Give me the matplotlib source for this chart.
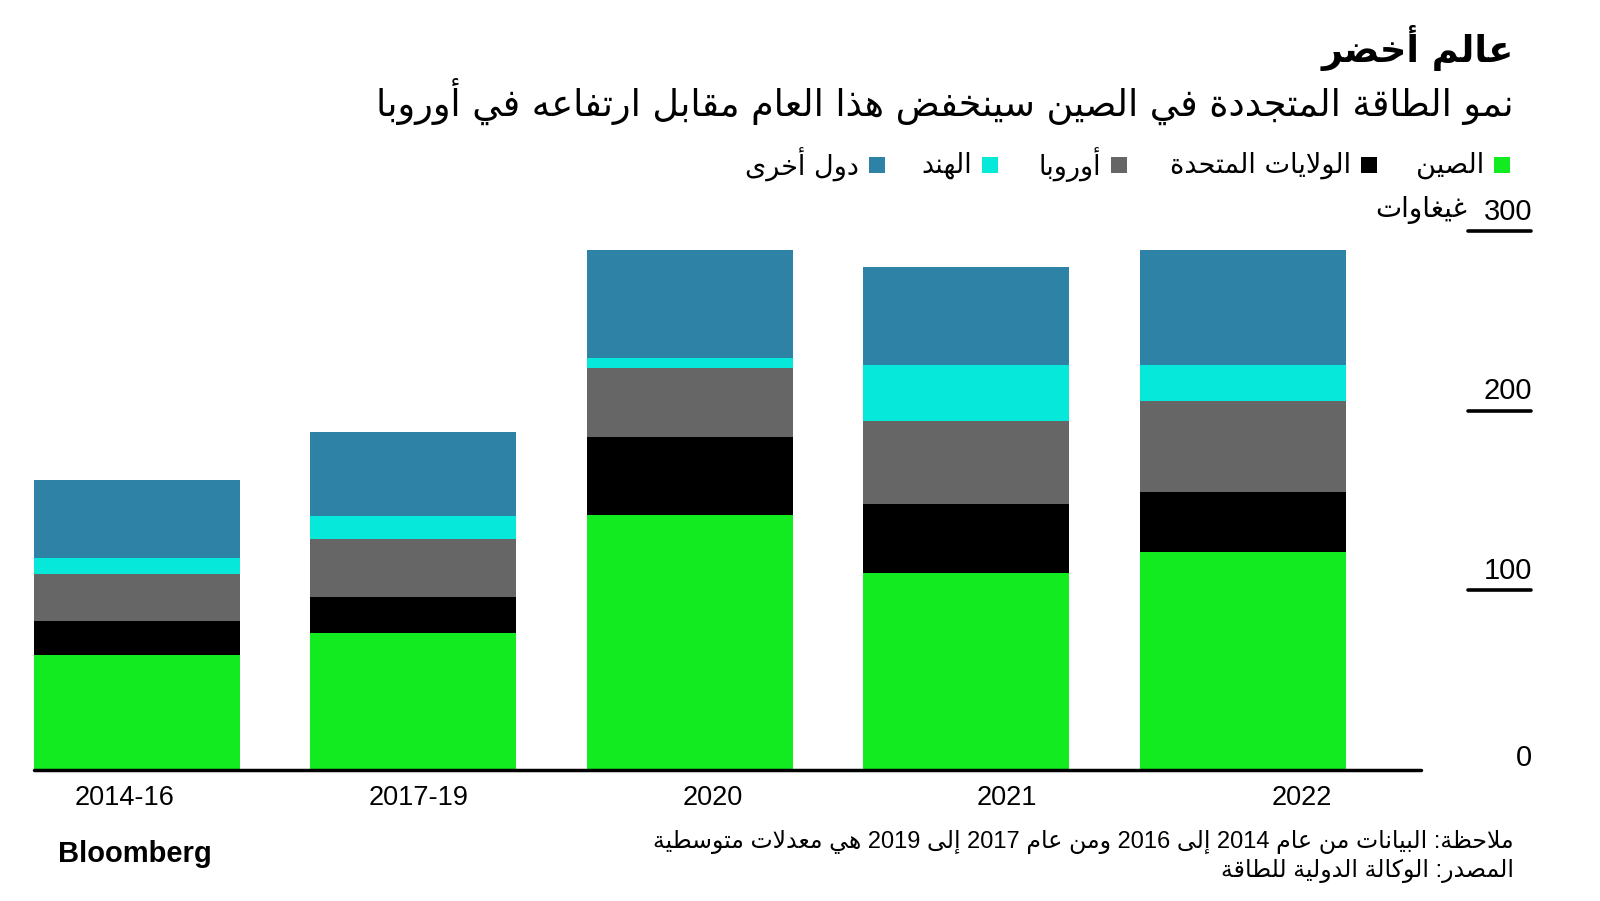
import re
import matplotlib
matplotlib.use("Agg")
import matplotlib.pyplot as plt
from matplotlib.patches import Rectangle
import matplotlib.transforms as mtransforms

# ---------------- data ----------------
categories = ["2014-16", "2017-19", "2020", "2021", "2022"]
china = [64.2, 76.1, 142.0, 109.5, 121.5]
usa = [18.6, 20.4, 43.6, 38.4, 33.1]
europe = [26.3, 32.1, 38.1, 46.4, 51.0]
india = [9.1, 13.0, 5.5, 31.2, 19.9]
others = [43.3, 46.4, 60.3, 54.4, 64.0]
series_names = ["الصين", "الولايات المتحدة", "أوروبا", "الهند", "دول أخرى"]
series_colors = ["#12eb20", "#000000", "#666666", "#06e8da", "#2e82a6"]
y_ticks = [0, 100, 200, 300]
unit_label = "غيغاوات"
title = "عالم أخضر"
subtitle = "نمو الطاقة المتجددة في الصين سينخفض هذا العام مقابل ارتفاعه في أوروبا"
note = "ملاحظة: البيانات من عام 2014 إلى 2016 ومن عام 2017 إلى 2019 هي معدلات متوسطية"
source = "المصدر: الوكالة الدولية للطاقة"

# ------------- minimal Arabic shaping + RTL ordering -------------
DUAL = {'ئ': 0xFE89, 'ب': 0xFE8F, 'ت': 0xFE95, 'ث': 0xFE99, 'ج': 0xFE9D, 'ح': 0xFEA1,
        'خ': 0xFEA5, 'س': 0xFEB1, 'ش': 0xFEB5, 'ص': 0xFEB9, 'ض': 0xFEBD, 'ط': 0xFEC1,
        'ظ': 0xFEC5, 'ع': 0xFEC9, 'غ': 0xFECD, 'ف': 0xFED1, 'ق': 0xFED5, 'ك': 0xFED9,
        'ل': 0xFEDD, 'م': 0xFEE1, 'ن': 0xFEE5, 'ه': 0xFEE9, 'ي': 0xFEF1}
RIGHT = {'آ': 0xFE81, 'أ': 0xFE83, 'ؤ': 0xFE85, 'إ': 0xFE87, 'ا': 0xFE8D, 'ة': 0xFE93,
         'د': 0xFEA9, 'ذ': 0xFEAB, 'ر': 0xFEAD, 'ز': 0xFEAF, 'و': 0xFEED, 'ى': 0xFEEF}
NONJ = {'ء': 0xFE80}
LAMALEF = {'آ': 0xFEF5, 'أ': 0xFEF7, 'إ': 0xFEF9, 'ا': 0xFEFB}


def _shape(w):
    out = []
    i, n = 0, len(w)
    joins = lambda c: c in DUAL or c in RIGHT
    while i < n:
        c = w[i]
        pj = i > 0 and w[i - 1] in DUAL
        if c == 'ل' and i + 1 < n and w[i + 1] in LAMALEF:
            b = LAMALEF[w[i + 1]]
            out.append(chr(b + 1 if pj else b))
            i += 2
            continue
        if c in DUAL:
            nj = i + 1 < n and joins(w[i + 1])
            f = 3 if (pj and nj) else 1 if pj else 2 if nj else 0
            out.append(chr(DUAL[c] + f))
        elif c in RIGHT:
            out.append(chr(RIGHT[c] + (1 if pj else 0)))
        elif c in NONJ:
            out.append(chr(NONJ[c]))
        else:
            out.append(c)
        i += 1
    return ''.join(out)


def ar(s):
    s = _shape(s)
    runs = re.findall(r'[0-9]+|[^0-9]+', s)
    return ''.join(r if r.isdigit() else r[::-1] for r in reversed(runs))


AR_FONT = ['DejaVu Sans']
LAT_FONT = ['Liberation Sans', 'DejaVu Sans']

# ---------------- figure ----------------
W, H = 1600, 901
fig = plt.figure(figsize=(W / 100, H / 100), dpi=100)
fig.patch.set_facecolor('white')

px_per_unit = 1.796
base_px = 770
ymax = 320
ax_left, ax_right = 34, 1421
ax_top = base_px - ymax * px_per_unit
ax = fig.add_axes([ax_left / W, (H - base_px) / H, (ax_right - ax_left) / W,
                   (base_px - ax_top) / H])
ax.set_xlim(-0.3725, 4.644)
ax.set_ylim(0, ymax)
ax.axis('off')

x = list(range(len(categories)))
bottom = [0.0] * len(categories)
for vals, col in zip([china, usa, europe, india, others], series_colors):
    ax.bar(x, vals, width=0.745, bottom=bottom, color=col, linewidth=0, zorder=2)
    bottom = [b + v for b, v in zip(bottom, vals)]

ax.axhline(0, color='black', lw=2.5, solid_capstyle='round', clip_on=False, zorder=3)

# x tick labels (positioned on their own evenly spaced scale like the reference)
axl = fig.add_axes(ax.get_position(), frameon=False)
axl.set_xlim(-0.3065, 4.4065)
axl.set_ylim(0, 1)
axl.set_xticks(x)
axl.set_xticklabels(categories, family=LAT_FONT, fontsize=19.5)
axl.tick_params(axis='x', length=0, pad=11)
axl.set_yticks([])
axl.patch.set_alpha(0)

# right-side y ticks
trans = mtransforms.blended_transform_factory(fig.transFigure, ax.transData)
for t in y_ticks:
    if t > 0:
        ax.plot([1468 / W, 1531 / W], [t, t], transform=trans, color='black', lw=2.6,
                solid_capstyle='round', clip_on=False)
    off = 14 if t > 0 else 9
    ax.annotate(str(t), xy=(1532 / W, t), xycoords=trans, xytext=(0, off),
                textcoords='offset points', ha='right', va='center',
                family=LAT_FONT, fontsize=21)
ax.annotate(ar(unit_label), xy=(1467 / W, y_ticks[-1]), xycoords=trans, xytext=(0, 15),
            textcoords='offset points', ha='right', va='center',
            family=AR_FONT, fontsize=20)

# titles
fig.text(1514 / W, 1 - 48 / H, ar(title), ha='right', va='center', family=AR_FONT,
         fontsize=26.5, fontweight='bold')
fig.text(1514 / W, 1 - 101 / H, ar(subtitle), ha='right', va='center', family=AR_FONT,
         fontsize=26.3)

# legend (squares to the right of each label, right-to-left order)
sq_right = [1510, 1377, 1127, 998, 885]
sq = 16
leg_y = 165
for name, col, xr in zip(series_names, series_colors, sq_right):
    fig.patches.append(Rectangle(((xr - sq) / W, 1 - (leg_y + sq / 2) / H), sq / W, sq / H,
                                 transform=fig.transFigure, color=col, linewidth=0))
    fig.text((xr - sq - 10) / W, 1 - leg_y / H, ar(name), ha='right', va='center',
             family=AR_FONT, fontsize=19.5)

# footer
fig.text(58 / W, 1 - 854 / H, "Bloomberg", ha='left', va='center', family=LAT_FONT,
         fontsize=21, fontweight='bold')
fig.text(1514 / W, 1 - 842 / H, ar(note), ha='right', va='center', family=LAT_FONT,
         fontsize=17)
fig.text(1514 / W, 1 - 871 / H, ar(source), ha='right', va='center', family=LAT_FONT,
         fontsize=17)

fig.savefig('out.png', dpi=100, facecolor='white')
